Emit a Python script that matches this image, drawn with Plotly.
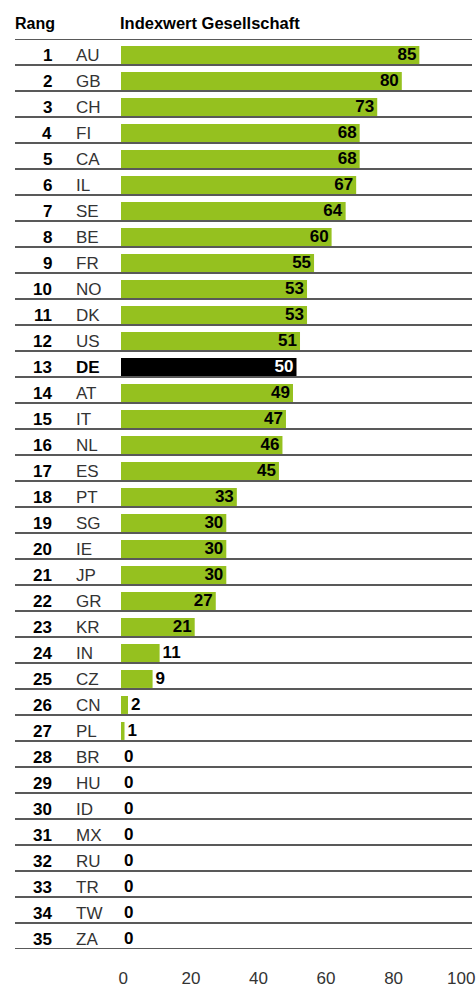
import plotly.graph_objects as go

ranks = list(range(1, 36))
countries = ["AU", "GB", "CH", "FI", "CA", "IL", "SE", "BE", "FR", "NO", "DK", "US",
             "DE", "AT", "IT", "NL", "ES", "PT", "SG", "IE", "JP", "GR", "KR", "IN",
             "CZ", "CN", "PL", "BR", "HU", "ID", "MX", "RU", "TR", "TW", "ZA"]
values = [85, 80, 73, 68, 68, 67, 64, 60, 55, 53, 53, 51, 50, 49, 47, 46, 45, 33,
          30, 30, 30, 27, 21, 11, 9, 2, 1, 0, 0, 0, 0, 0, 0, 0, 0]
x_ticks = [0, 20, 40, 60, 80, 100]
highlight = "DE"

GREEN = "#95C11F"
FONT = "Liberation Sans, Arial, sans-serif"

W, H = 476, 987
ML, MR, MT, MB = 121, 4, 39, 38
plot_w = W - ML - MR
plot_h = H - MT - MB

n = len(countries)
ypos = list(range(n))
colors = ["#000000" if c == highlight else GREEN for c in countries]
tcolors = ["#FFFFFF" if c == highlight else "#000000" for c in countries]
tpos = ["inside" if v >= 20 else "outside" for v in values]

fig = go.Figure()
fig.add_trace(go.Bar(
    x=values, y=ypos, orientation="h",
    width=0.69, offset=-0.23,
    marker=dict(color=colors, line=dict(width=0)),
    text=[str(v) for v in values],
    textposition=tpos,
    insidetextanchor="end",
    textangle=0,
    constraintext="none",
    cliponaxis=False,
    textfont=dict(family=FONT, size=17, color=tcolors, weight="bold"),
    hoverinfo="skip",
))
# invisible trace so the tick-label axis is drawn
fig.add_trace(go.Scatter(x=[0], y=[0], xaxis="x2", mode="markers",
                         marker=dict(opacity=0), hoverinfo="skip", showlegend=False))

shapes = []
for b in [-0.5] + [i + 0.5 for i in range(n)]:
    shapes.append(dict(type="line", xref="paper", yref="y",
                       x0=(15 - ML) / plot_w, x1=(472 - ML) / plot_w,
                       y0=b, y1=b, line=dict(color="#222222", width=1.5),
                       layer="above"))

annotations = []
for i, (r, c) in enumerate(zip(ranks, countries)):
    annotations.append(dict(x=(54 - ML) / plot_w, y=i, xref="paper", yref="y",
                            text=f"<b>{r}</b>", showarrow=False,
                            xanchor="right", yanchor="middle", yshift=-3,
                            font=dict(family=FONT, size=17, color="#000000")))
    txt = f"<b>{c}</b>" if c == highlight else c
    annotations.append(dict(x=(74 - ML) / plot_w, y=i, xref="paper", yref="y",
                            text=txt, showarrow=False,
                            xanchor="left", yanchor="middle", yshift=-3,
                            font=dict(family=FONT, size=17,
                                      color="#000000" if c == highlight else "#333333")))

annotations.append(dict(x=(13 - ML) / plot_w, y=1 + (MT - 23) / plot_h,
                        xref="paper", yref="paper", text="<b>Rang</b>", showarrow=False,
                        xanchor="left", yanchor="middle",
                        font=dict(family=FONT, size=16, color="#000000")))
annotations.append(dict(x=(118 - ML) / plot_w, y=1 + (MT - 23) / plot_h,
                        xref="paper", yref="paper", text="<b>Indexwert Gesellschaft</b>",
                        showarrow=False, xanchor="left", yanchor="middle",
                        font=dict(family=FONT, size=16.5, color="#000000")))

fig.update_layout(
    width=W, height=H,
    margin=dict(l=ML, r=MR, t=MT, b=MB, pad=0, autoexpand=False),
    paper_bgcolor="white", plot_bgcolor="white",
    showlegend=False,
    shapes=shapes,
    annotations=annotations,
    xaxis=dict(range=[0, 100], showticklabels=False, ticks="", automargin=False,
               showgrid=False, zeroline=False, showline=False, fixedrange=True),
    xaxis2=dict(overlaying="x", side="bottom", anchor="y", automargin=False,
                range=[-0.68, 103.2], tickvals=x_ticks,
                ticktext=[str(t) for t in x_ticks],
                showgrid=False, zeroline=False, showline=False,
                ticks="outside", ticklen=14, tickcolor="rgba(0,0,0,0)",
                ticklabeloverflow="allow",
                tickfont=dict(family=FONT, size=17, color="#333333"),
                fixedrange=True),
    yaxis=dict(range=[n - 0.5, -0.5], showticklabels=False, showgrid=False,
               automargin=False,
               zeroline=False, showline=False, ticks="", fixedrange=True),
)

fig.write_html("out.html", config={"displayModeBar": False},
               post_script="document.body.style.margin='0';document.body.style.overflow='hidden';")
